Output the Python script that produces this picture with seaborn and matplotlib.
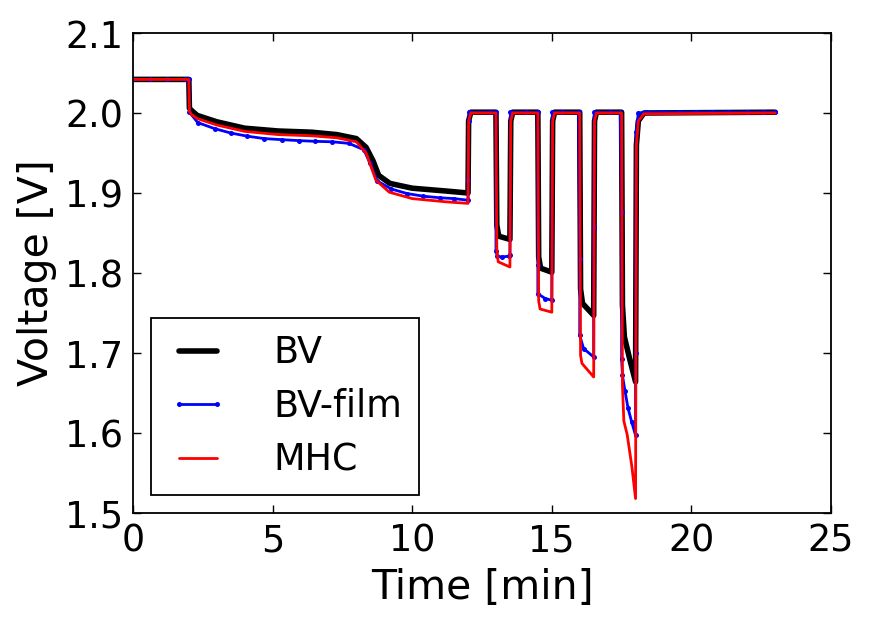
import matplotlib
matplotlib.use("Agg")
import matplotlib.pyplot as plt
import seaborn as sns
import pandas as pd

# ---------------- data ----------------
bv_t = [0, 2.0, 2.02, 2.1, 2.3, 3.0, 4.0, 5.2, 6.4, 7.3, 8.0, 8.35, 8.6, 8.8, 9.2, 10.0, 11.2, 12.0,
        12.02, 12.1, 13.0, 13.03, 13.1, 13.5, 13.53, 13.6, 14.5, 14.53, 14.6, 15.0, 15.03, 15.1,
        16.0, 16.03, 16.1, 16.5, 16.53, 16.6, 17.5, 17.53, 17.6, 17.8, 18.0, 18.03, 18.1, 18.3, 23.0]
bv_v = [2.042, 2.042, 2.006, 2.003, 1.997, 1.989, 1.981, 1.9775, 1.976, 1.973, 1.968, 1.957, 1.940,
        1.922, 1.912, 1.906, 1.9025, 1.900,
        1.990, 2.001, 2.001, 1.860, 1.846, 1.842, 1.990, 2.001, 2.001, 1.820, 1.806, 1.801, 1.990, 2.001,
        2.001, 1.780, 1.762, 1.747, 1.990, 2.001, 2.001, 1.760, 1.720, 1.691, 1.664, 1.960, 1.990, 2.000, 2.001]

film_t = [0, 0.6, 1.2, 1.85, 2.0, 2.02, 2.32, 2.92, 3.5, 4.1, 4.7, 5.33, 5.93, 6.52, 7.14, 7.74, 8.27,
          8.49, 8.75, 9.25, 9.82, 10.4, 11.0, 11.5, 12.0,
          12.0, 12.02, 12.05, 12.8, 13.0, 13.0, 13.05, 13.2, 13.45, 13.5, 13.52, 14.06,
          14.5, 14.5, 14.5, 14.77, 15.0, 15.02, 15.37, 15.96,
          16.0, 16.0, 16.14, 16.5, 16.5, 16.52, 17.1, 17.45,
          17.5, 17.5, 17.53, 17.62, 17.73, 17.86, 18.0, 18.0, 18.02, 18.1,
          18.36, 18.96, 19.56, 20.16, 20.76, 21.36, 21.98, 22.58, 23.0]
film_v = [2.042, 2.042, 2.042, 2.042, 2.042, 2.001, 1.988, 1.9805, 1.975, 1.971, 1.968, 1.9667, 1.9655,
          1.9646, 1.964, 1.962, 1.954, 1.937, 1.915, 1.905, 1.8993, 1.896, 1.894, 1.893, 1.891,
          1.916, 1.990, 2.001, 2.001, 2.001, 1.828, 1.821, 1.820, 1.821, 1.823, 2.001, 2.001,
          2.001, 1.810, 1.774, 1.768, 1.766, 2.001, 2.001, 2.001,
          1.818, 1.722, 1.7055, 1.695, 1.8575, 2.001, 2.001, 2.001,
          1.876, 1.693, 1.672, 1.653, 1.631, 1.614, 1.597, 1.700, 1.976, 2.000,
          2.001, 2.001, 2.001, 2.001, 2.001, 2.001, 2.001, 2.001, 2.001]

mhc_t = [0, 2.0, 2.02, 2.1, 2.3, 3.0, 4.0, 5.2, 6.4, 7.3, 8.0, 8.35, 8.7, 9.18, 10.0, 11.2, 12.0,
         12.02, 12.1, 13.0, 13.03, 13.08, 13.5, 13.53, 13.6, 14.5, 14.53, 14.58, 15.0, 15.03, 15.1,
         16.0, 16.03, 16.08, 16.5, 16.53, 16.6, 17.5, 17.53, 17.58, 17.7, 17.87, 18.0, 18.03, 18.1, 18.3, 23.0]
mhc_v = [2.042, 2.042, 2.002, 1.998, 1.993, 1.985, 1.977, 1.973, 1.9715, 1.969, 1.964, 1.950, 1.916,
         1.901, 1.893, 1.889, 1.887,
         1.990, 2.000, 2.000, 1.830, 1.814, 1.8075, 1.990, 2.000, 2.000, 1.765, 1.755, 1.751, 1.990, 2.000,
         2.000, 1.697, 1.687, 1.670, 1.990, 2.000, 2.000, 1.660, 1.615, 1.598, 1.5575, 1.518, 1.960, 1.990,
         1.999, 2.000]

labels = ["BV", "BV-film", "MHC"]
x_ticks = [0, 5, 10, 15, 20, 25]
y_ticks = [1.5, 1.6, 1.7, 1.8, 1.9, 2.0, 2.1]
y_tick_labels = ["1.5", "1.6", "1.7", "1.8", "1.9", "2.0", "2.1"]

# ---------------- style ----------------
sns.set_theme(style="white")
plt.rcParams["font.family"] = ["DejaVu Sans"]
plt.rcParams.update({
    "axes.edgecolor": "black",
    "axes.linewidth": 1.3,
    "axes.labelcolor": "black",
    "text.color": "black",
    "xtick.direction": "in",
    "ytick.direction": "in",
    "xtick.top": True,
    "ytick.right": True,
    "xtick.bottom": True,
    "ytick.left": True,
    "xtick.major.size": 5.5,
    "ytick.major.size": 5.5,
    "xtick.major.width": 1.0,
    "ytick.major.width": 1.0,
    "xtick.color": "black",
    "ytick.color": "black",
    "xtick.labelcolor": "black",
    "ytick.labelcolor": "black",
})

FS = 26.3
FS_LABEL = 29.5
fig = plt.figure(figsize=(8.71, 6.24), dpi=100)
ax = fig.add_axes([133 / 871, 1 - 513 / 624, (831 - 133) / 871, (513 - 33) / 624])

df_bv = pd.DataFrame({"t": bv_t, "v": bv_v})
df_film = pd.DataFrame({"t": film_t, "v": film_v})
df_mhc = pd.DataFrame({"t": mhc_t, "v": mhc_v})

sns.lineplot(data=df_bv, x="t", y="v", ax=ax, sort=False, estimator=None,
             color="black", linewidth=4, label=labels[0])
sns.lineplot(data=df_film, x="t", y="v", ax=ax, sort=False, estimator=None,
             color="#0000ff", linewidth=2, marker="o", markersize=3.6,
             markeredgewidth=0, label=labels[1])
sns.lineplot(data=df_mhc, x="t", y="v", ax=ax, sort=False, estimator=None,
             color="#ff0000", linewidth=2, label=labels[2])

ax.set_xlim(0, 25)
ax.set_ylim(1.5, 2.1)
ax.set_xticks(x_ticks)
ax.set_yticks(y_ticks)
ax.set_yticklabels(y_tick_labels)
ax.tick_params(axis="both", labelsize=FS, pad=7, colors="black")
ax.set_xlabel("Time [min]", fontsize=FS_LABEL, labelpad=6, color="black")
ax.set_ylabel("Voltage [V]", fontsize=FS_LABEL, labelpad=6, color="black")
for s in ax.spines.values():
    s.set_visible(True)
    s.set_color("black")

leg = ax.legend(loc="lower left", fontsize=FS, frameon=True, fancybox=False,
                edgecolor="black", framealpha=1, borderaxespad=0.5,
                handlelength=1.65, handletextpad=1.25, labelspacing=0.45,
                borderpad=0.45, numpoints=2)
leg.get_frame().set_linewidth(1.3)
for txt in leg.get_texts():
    txt.set_color("black")

fig.savefig("out.png", dpi=100)
